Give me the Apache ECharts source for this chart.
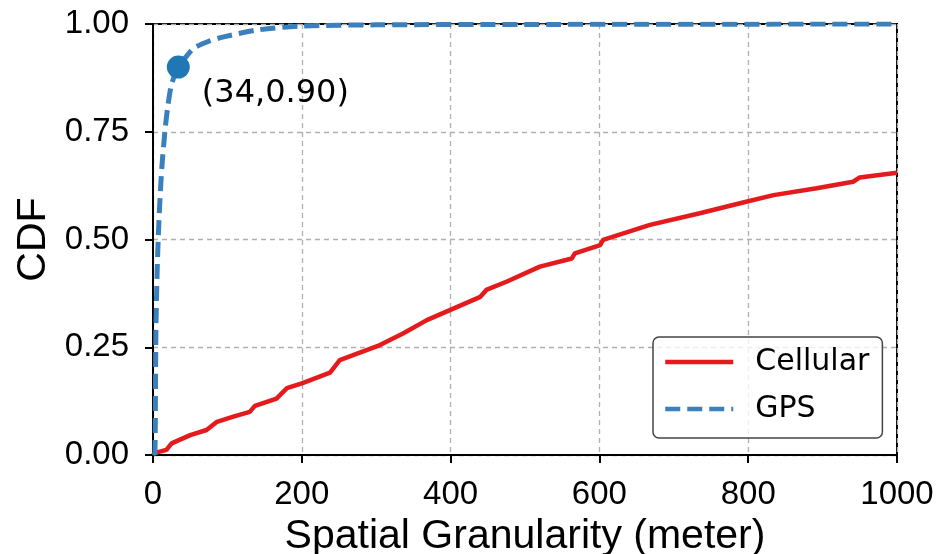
<!DOCTYPE html>
<html>
<head>
<meta charset="utf-8">
<script src="https://cdn.jsdelivr.net/npm/echarts@6/dist/echarts.min.js"></script>
<style>
  html, body { margin: 0; padding: 0; background: #fff; }
  #chart { width: 944px; height: 554px; }
</style>
</head>
<body>
<div id="chart"></div>
<script>
// values
var xTicks = [0, 200, 400, 600, 800, 1000]
var yTicks = [0, 0.25, 0.5, 0.75, 1.0]

var cellularX = [0, 3, 18, 25, 50, 72, 86, 108, 130, 137, 166, 180, 200, 238, 251, 305, 336, 368, 399, 440, 448, 475, 520, 563, 567, 601, 605, 668, 735, 789, 834, 892, 941, 950, 1000]
var cellularY = [0, 0.005, 0.012, 0.027, 0.046, 0.058, 0.077, 0.089, 0.1, 0.114, 0.131, 0.155, 0.166, 0.191, 0.22, 0.255, 0.282, 0.313, 0.336, 0.367, 0.383, 0.402, 0.437, 0.456, 0.468, 0.487, 0.499, 0.534, 0.561, 0.584, 0.603, 0.619, 0.634, 0.644, 0.655]

var gpsX = [2.5, 3, 3.5, 4, 5.5, 7, 9, 12, 16, 20, 25, 34, 45, 55, 75, 95, 140, 200, 300, 500, 1000]
var gpsY = [0, 0.05, 0.2, 0.3, 0.42, 0.5, 0.58, 0.67, 0.75, 0.81, 0.86, 0.90, 0.925, 0.944, 0.96, 0.97, 0.986, 0.995, 0.998, 0.999, 1.0]

var markX = 34
var markY = 0.90

var cellular = cellularX.map(function (x, i) { return [x, cellularY[i]] })
var gps = gpsX.map(function (x, i) { return [x, gpsY[i]] })

var axisFont = 'Liberation Sans, Arial, Helvetica, sans-serif'
var textFont = 'DejaVu Sans, sans-serif'

var chart = echarts.init(document.getElementById('chart'))
chart.setOption({
  animation: false,
  grid: {
    left: 153, right: 47, top: 24, bottom: 99,
    containLabel: false, outerBoundsMode: 'none',
    show: true, borderColor: '#000', borderWidth: 2, backgroundColor: 'transparent'
  },
  legend: {
    left: 653, top: 337,
    orient: 'vertical',
    data: ['Cellular', 'GPS'],
    itemWidth: 68, itemHeight: 30, itemGap: 17,
    padding: [10, 13, 14, 10],
    backgroundColor: 'rgba(255,255,255,0.8)',
    borderColor: '#444', borderWidth: 1.5, borderRadius: 6,
    itemStyle: { opacity: 0 },
    lineStyle: { width: 4.5 },
    textStyle: { fontFamily: textFont, fontSize: 30, color: '#000', padding: [0, 0, 0, 17] }
  },
  xAxis: {
    type: 'value', min: 0, max: 1000, interval: 200,
    name: 'Spatial Granularity (meter)', nameLocation: 'middle', nameGap: 40,
    nameTextStyle: { fontFamily: axisFont, fontSize: 41, color: '#000' },
    axisLine: { lineStyle: { color: '#000', width: 2 } },
    axisTick: { length: 8, lineStyle: { color: '#000', width: 2 } },
    axisLabel: {
      fontFamily: axisFont, fontSize: 33, color: '#000', margin: 23,
      formatter: function (v) { return String(v) }
    },
    splitLine: { show: true, lineStyle: { color: '#b0b0b0', width: 1.3, type: [5, 4] } }
  },
  yAxis: {
    type: 'value', min: 0, max: 1, interval: 0.25,
    name: 'CDF', nameLocation: 'middle', nameGap: 92, nameRotate: 90,
    nameTextStyle: { fontFamily: axisFont, fontSize: 41, color: '#000' },
    axisLine: { show: true, lineStyle: { color: '#000', width: 2 } },
    axisTick: { show: true, length: 8, lineStyle: { color: '#000', width: 2 } },
    axisLabel: {
      fontFamily: axisFont, fontSize: 33, color: '#000', margin: 24,
      formatter: function (v) { return v.toFixed(2) }
    },
    splitLine: { show: true, lineStyle: { color: '#b0b0b0', width: 1.3, type: [5, 4] } }
  },
  series: [
    {
      name: 'Cellular', type: 'line', data: cellular,
      symbol: 'none', clip: true,
      lineStyle: { color: '#e41a1c', width: 4.5 },
      itemStyle: { color: '#e41a1c' }
    },
    {
      name: 'GPS', type: 'line', data: gps, smooth: 0.3,
      symbol: 'none', clip: true,
      lineStyle: { color: '#3a80bd', width: 5, type: [15, 7] },
      itemStyle: { color: '#3a80bd' }
    },
    {
      name: 'mark', type: 'scatter', data: [[markX, markY]],
      symbolSize: 23, z: 5,
      itemStyle: { color: '#1f77b4', opacity: 1 },
      label: {
        show: true, position: 'right', distance: 12, offset: [0, 27],
        formatter: '(' + markX + ',' + markY.toFixed(2) + ')',
        fontFamily: textFont, fontSize: 32, color: '#000'
      }
    }
  ]
})
</script>
</body>
</html>
